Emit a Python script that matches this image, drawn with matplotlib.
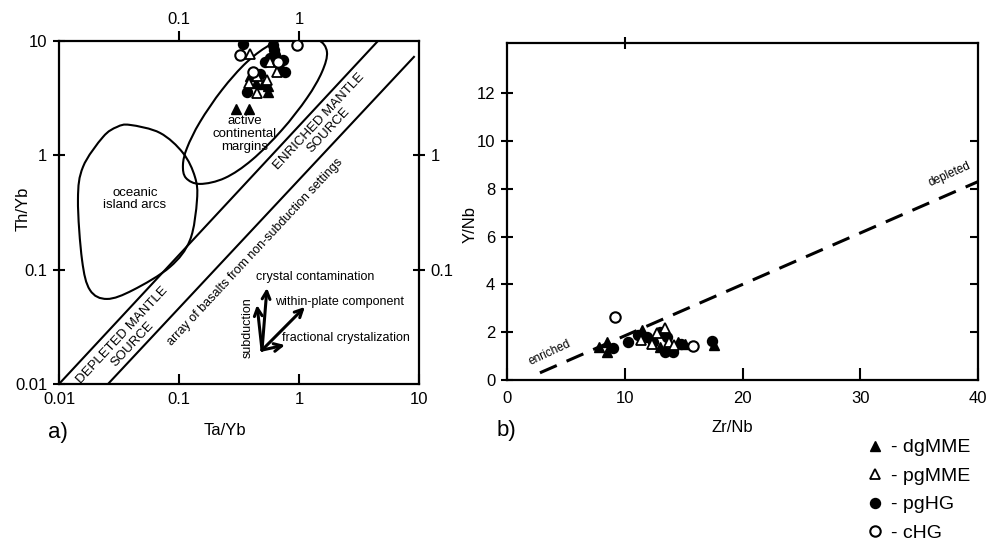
import numpy as np
import matplotlib
matplotlib.use('Agg')
import matplotlib.pyplot as plt
from matplotlib.path import Path
from matplotlib.patches import PathPatch
from matplotlib.lines import Line2D
from matplotlib.ticker import FixedLocator, NullLocator

plt.rcParams['font.family'] = ['Liberation Sans', 'DejaVu Sans']

# ---- panel a: Ta/Yb vs Th/Yb ----
a_dgMME_x = [0.39, 0.44, 0.50, 0.55, 0.55, 0.30, 0.38]
a_dgMME_y = [4.9, 4.3, 4.2, 4.0, 3.6, 2.55, 2.55]
a_pgMME_x = [0.39, 0.57, 0.65, 0.45, 0.54, 0.38, 0.45]
a_pgMME_y = [7.7, 6.5, 5.4, 4.9, 4.6, 4.3, 3.5]
a_pgHG_x = [0.34, 0.61, 0.63, 0.52, 0.74, 0.69, 0.76, 0.47, 0.37, 0.57, 0.62]
a_pgHG_y = [9.4, 9.3, 7.5, 6.6, 6.8, 5.6, 5.4, 5.1, 3.6, 7.1, 8.3]
a_cHG_x = [0.96, 0.32, 0.67, 0.41]
a_cHG_y = [9.3, 7.5, 6.5, 5.4]

# field outlines, log10 units
oia_lx = [-1.408, -1.158, -0.967, -0.867, -0.85, -0.908, -1.075, -1.383,
          -1.6, -1.742, -1.808, -1.842, -1.8, -1.633, -1.517]
oia_ly = [0.266, 0.196, 0.021, -0.189, -0.39, -0.74, -0.976, -1.178,
          -1.256, -1.178, -0.915, -0.39, -0.101, 0.161, 0.248]
acm_lx = [-0.967, -0.942, -0.825, -0.617, -0.392, -0.142, 0.067, 0.192,
          0.233, 0.158, -0.033, -0.225, -0.433, -0.642, -0.825, -0.933]
acm_ly = [-0.084, -0.198, -0.25, -0.198, -0.04, 0.222, 0.502, 0.73,
          0.905, 1.01, 1.027, 0.975, 0.817, 0.572, 0.292, 0.065]

# mantle array boundaries
lineA_x = [0.01, 4.55]
lineA_y = [0.01, 10.0]
lineB_x = [0.0256, 9.08]
lineB_y = [0.01, 7.26]

# vector arrows (origin -> heads)
vec_origin = (0.492, 0.0198)
vec_heads = {'subduction': (0.447, 0.0491),
             'crystal': (0.541, 0.0692),
             'withinplate': (1.12, 0.0472),
             'fractional': (0.764, 0.0219)}

# ---- panel b: Zr/Nb vs Y/Nb ----
b_dgMME_x = [7.8, 8.5, 8.5, 11.5, 14.5, 15.1, 13.0, 17.6]
b_dgMME_y = [1.38, 1.6, 1.17, 2.1, 1.6, 1.5, 1.38, 1.46]
b_pgMME_x = [11.4, 12.7, 13.4, 13.8, 14.2, 12.3]
b_pgMME_y = [1.67, 1.97, 2.18, 1.6, 1.46, 1.5]
b_pgHG_x = [9.0, 10.3, 11.1, 11.9, 12.4, 13.6, 13.4, 14.1, 14.8, 17.4, 13.0]
b_pgHG_y = [1.34, 1.6, 1.9, 1.8, 1.6, 1.8, 1.17, 1.17, 1.5, 1.63, 2.0]
b_cHG_x = [9.15, 15.8]
b_cHG_y = [2.64, 1.42]

dep_x = [2.8, 40.0]
dep_y = [0.3, 8.3]

groups = ['dgMME', 'pgMME', 'pgHG', 'cHG']


def smooth_closed(lx, ly):
    # closed Catmull-Rom outline handed to matplotlib as cubic Bezier segments
    P = np.column_stack([lx, ly])
    n = len(P)
    verts = [P[0]]
    codes = [Path.MOVETO]
    for i in range(n):
        p0, p1, p2, p3 = P[i - 1], P[i], P[(i + 1) % n], P[(i + 2) % n]
        verts += [p1 + (p2 - p0) / 6, p2 - (p3 - p1) / 6, p2]
        codes += [Path.CURVE4] * 3
    return Path(10 ** np.array(verts), codes)


def markers(ax, x, y, kind, z=3):
    if kind == 'dgMME':
        ax.plot(x, y, ls='none', marker='^', ms=7, mfc='black', mec='black', zorder=z)
    elif kind == 'pgMME':
        ax.plot(x, y, ls='none', marker='^', ms=7.5, mfc='white', mec='black', mew=1.3, zorder=z)
    elif kind == 'pgHG':
        ax.plot(x, y, ls='none', marker='o', ms=7.2, mfc='black', mec='black', zorder=z)
    else:
        ax.plot(x, y, ls='none', marker='o', ms=7.5, mfc='white', mec='black', mew=1.5, zorder=z)


fig = plt.figure(figsize=(9.9, 5.43), dpi=100)
axa = fig.add_axes([0.0596, 0.2928, 0.3636, 0.6317])
axb = fig.add_axes([0.5121, 0.3002, 0.4758, 0.6206])

# ---------- panel a ----------
axa.set_xscale('log')
axa.set_yscale('log')
axa.set_xlim(0.01, 10)
axa.set_ylim(0.01, 10)
for s in axa.spines.values():
    s.set_linewidth(1.6)

axa.add_patch(PathPatch(smooth_closed(oia_lx, oia_ly), fill=False, lw=1.5, ec='black'))
axa.add_patch(PathPatch(smooth_closed(acm_lx, acm_ly), fill=False, lw=1.5, ec='black'))
axa.plot(lineA_x, lineA_y, color='black', lw=1.5)
axa.plot(lineB_x, lineB_y, color='black', lw=1.5)

axa.text(0.043, 0.415, 'oceanic\nisland arcs', ha='center', va='center', fontsize=9.5,
         linespacing=1.1)
axa.text(0.355, 1.54, 'active\ncontinental\nmargins', ha='center', va='center', fontsize=9.5,
         linespacing=1.1)
axa.text(0.0372, 0.0245, 'DEPLETED MANTLE\nSOURCE', ha='center', va='center', fontsize=9.5,
         rotation=47, rotation_mode='anchor', linespacing=1.1)
axa.text(1.62, 1.8, 'ENRICHED MANTLE\nSOURCE', ha='center', va='center', fontsize=9.5,
         rotation=47, rotation_mode='anchor', linespacing=1.1)
axa.text(0.43, 0.143, 'array of basalts from non-subduction settings', ha='center',
         va='center', fontsize=9, rotation=47, rotation_mode='anchor')

for key, head in vec_heads.items():
    axa.annotate('', xy=head, xytext=vec_origin,
                 arrowprops=dict(arrowstyle='->', lw=2.2, color='black',
                                 mutation_scale=14, shrinkA=0, shrinkB=0))
axa.text(0.44, 0.086, 'crystal contamination', fontsize=9, ha='left', va='center')
axa.text(0.63, 0.052, 'within-plate component', fontsize=9, ha='left', va='center')
axa.text(0.72, 0.0254, 'fractional crystalization', fontsize=9, ha='left', va='center')
axa.text(0.37, 0.031, 'subduction', fontsize=9, ha='center', va='center', rotation=90)

markers(axa, a_pgHG_x, a_pgHG_y, 'pgHG')
markers(axa, a_dgMME_x, a_dgMME_y, 'dgMME')
markers(axa, a_pgMME_x, a_pgMME_y, 'pgMME')
markers(axa, a_cHG_x, a_cHG_y, 'cHG')

ticks_a = [0.01, 0.1, 1, 10]
ticklab_a = ['0.01', '0.1', '1', '10']
axa.xaxis.set_major_locator(FixedLocator(ticks_a))
axa.yaxis.set_major_locator(FixedLocator(ticks_a))
axa.set_xticklabels(ticklab_a)
axa.set_yticklabels(ticklab_a)
axa.xaxis.set_minor_locator(NullLocator())
axa.yaxis.set_minor_locator(NullLocator())
axa.tick_params(axis='x', direction='in', length=7, width=1.5, labelsize=12, pad=6)
axa.tick_params(axis='y', direction='inout', length=9, width=1.5, labelsize=12, pad=4)

top = axa.secondary_xaxis('top')
top.set_xticks([0.1, 1])
top.set_xticklabels(['0.1', '1'])
top.xaxis.set_minor_locator(NullLocator())
top.tick_params(direction='out', length=7, width=1.5, labelsize=12, pad=3)
top.spines['top'].set_visible(False)
right = axa.secondary_yaxis('right')
right.set_yticks([0.1, 1])
right.set_yticklabels(['0.1', '1'])
right.yaxis.set_minor_locator(NullLocator())
right.tick_params(direction='inout', length=9, width=1.5, labelsize=12, pad=4)
right.spines['right'].set_visible(False)

axa.set_xlabel('Ta/Yb', fontsize=12)
axa.xaxis.set_label_coords(0.46, -0.115)
axa.set_ylabel('Th/Yb', fontsize=12)
axa.yaxis.set_label_coords(-0.08, 0.51)

# ---------- panel b ----------
axb.set_xlim(0, 40)
axb.set_ylim(0, 14.1)
for s in axb.spines.values():
    s.set_linewidth(1.6)

axb.plot(dep_x, dep_y, color='black', lw=2.2, ls=(0, (6, 3.5)))
axb.text(3.6, 1.13, 'enriched', fontsize=8.5, rotation=25, ha='center', va='center')
axb.text(37.6, 8.6, 'depleted', fontsize=8.5, rotation=24, ha='center', va='center')

markers(axb, b_pgHG_x, b_pgHG_y, 'pgHG')
markers(axb, b_dgMME_x, b_dgMME_y, 'dgMME')
markers(axb, b_pgMME_x, b_pgMME_y, 'pgMME')
markers(axb, b_cHG_x, b_cHG_y, 'cHG')

axb.set_xticks([0, 10, 20, 30, 40])
axb.set_yticks([0, 2, 4, 6, 8, 10, 12])
axb.tick_params(axis='x', direction='in', length=9, width=1.5, labelsize=12, pad=8)
axb.tick_params(axis='y', direction='inout', length=9, width=1.5, labelsize=12, pad=4)

topb = axb.secondary_xaxis('top')
topb.set_xticks([10])
topb.set_xticklabels([])
topb.tick_params(direction='inout', length=9, width=1.5)
topb.spines['top'].set_visible(False)
rightb = axb.secondary_yaxis('right')
rightb.set_yticks([2, 4, 6, 8, 10])
rightb.set_yticklabels([])
rightb.tick_params(direction='in', length=6, width=1.5)
rightb.spines['right'].set_visible(False)

axb.set_xlabel('Zr/Nb', fontsize=12)
axb.xaxis.set_label_coords(0.478, -0.12)
axb.set_ylabel('Y/Nb', fontsize=12)
axb.yaxis.set_label_coords(-0.062, 0.46)

fig.text(0.0485, 0.203, 'a)', fontsize=16, ha='left', va='center')
fig.text(0.502, 0.208, 'b)', fontsize=16, ha='left', va='center')

handles = [Line2D([], [], ls='none', marker='^', ms=7, mfc='black', mec='black'),
           Line2D([], [], ls='none', marker='^', ms=7.5, mfc='white', mec='black', mew=1.3),
           Line2D([], [], ls='none', marker='o', ms=7.2, mfc='black', mec='black'),
           Line2D([], [], ls='none', marker='o', ms=7.5, mfc='white', mec='black', mew=1.5)]
fig.legend(handles, ['- ' + g for g in groups], loc='upper left',
           bbox_to_anchor=(0.874, 0.192), frameon=False, fontsize=14,
           handlelength=1.0, handletextpad=0.3, labelspacing=0.56, borderpad=0,
           borderaxespad=0)

fig.savefig('out.png', dpi=100)
